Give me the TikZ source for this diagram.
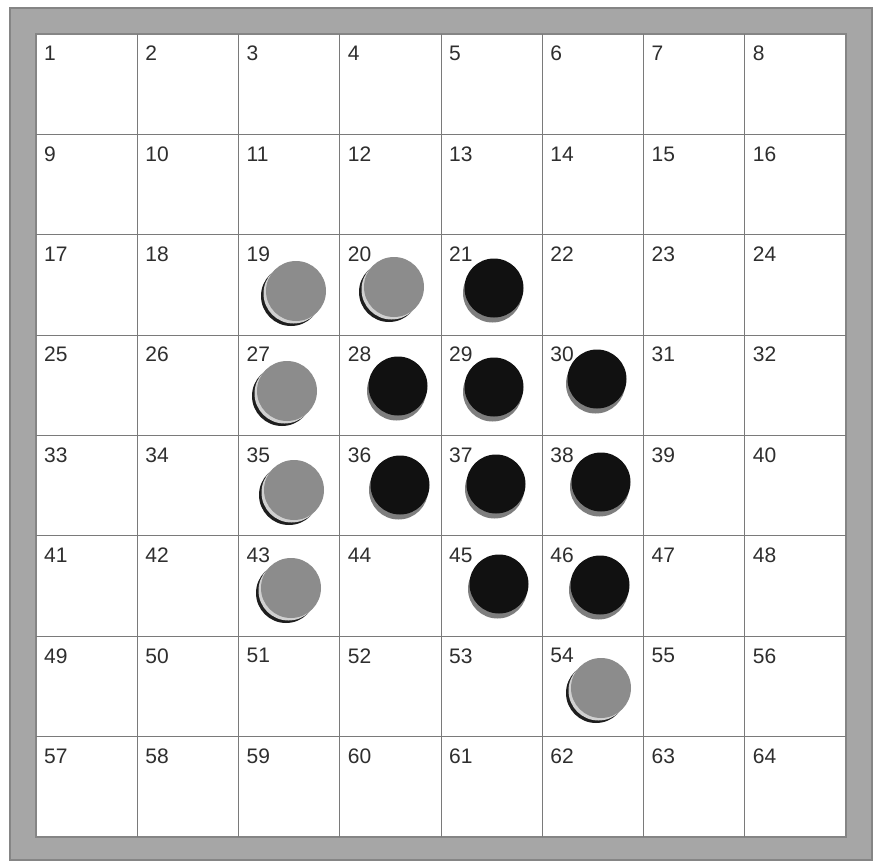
\documentclass[tikz,border=0pt]{standalone}
\usepackage{fontspec}
\setmainfont{Liberation Sans}
\definecolor{framegray}{HTML}{A6A6A6}
\definecolor{frameedge}{HTML}{858585}
\definecolor{gridgray}{HTML}{7A7A7A}
\definecolor{numgray}{HTML}{2E2E2E}
\definecolor{piecegray}{HTML}{8C8C8C}
\definecolor{shadowdark}{HTML}{1E1E1E}
\definecolor{rimlight}{HTML}{D0D0D0}
\definecolor{blackpiece}{HTML}{111111}
\definecolor{blackshadow}{HTML}{7E7E7E}
\tikzset{
  cellnum/.style={anchor=north west, inner sep=0pt, font=\fontsize{21}{21}\selectfont, text=numgray},
  gridline/.style={draw=gridgray, line width=0.9pt},
}
\newcommand{\graypiece}[3]{%
  \fill[shadowdark] (#1-5,#2+5) circle (30);
  \fill[rimlight] (#1-2.5,#2+2.5) circle (30);
  \fill[piecegray] (#1,#2) circle (30);
  \node[circle, minimum size=60pt, inner sep=0pt] (p#3) at (#1,#2) {};
}
\newcommand{\blackpiece}[3]{%
  \fill[blackshadow] (#1-1.5,#2+5) circle (29.5);
  \fill[blackpiece] (#1,#2) circle (29.5);
  \node[circle, minimum size=59pt, inner sep=0pt] (p#3) at (#1,#2) {};
}
\begin{document}
\begin{tikzpicture}[x=1pt,y=-1pt]
\useasboundingbox (0,0) rectangle (879,865);
\fill[white] (0,0) rectangle (879,865);
% frame
\fill[framegray] (10,8) rectangle (872,860);
\draw[frameedge, line width=1.2pt] (10,8) rectangle (872,860);
\fill[white] (36,34) rectangle (846,837);
\draw[frameedge, line width=1.2pt] (36,34) rectangle (846,837);
% grid
\foreach \i in {1,...,7} {
  \draw[gridline] ({36+\i*101.25},34) -- ({36+\i*101.25},837);
  \draw[gridline] (36,{34+\i*100.375}) -- (846,{34+\i*100.375});
}
% numbers
\foreach \r in {0,...,7} {
  \foreach \c in {0,...,7} {
    \pgfmathtruncatemacro{\n}{\r*8+\c+1}
    \node[cellnum] (n\n) at ({36+\c*101.25+8},{34+\r*100.375+12}) {\n};
  }
}
% pieces
\graypiece{296}{291}{19}
\graypiece{394}{287}{20}
\graypiece{287}{391}{27}
\graypiece{294}{490}{35}
\graypiece{291}{588}{43}
\graypiece{601}{688}{54}
\blackpiece{494}{288}{21}
\blackpiece{398}{386}{28}
\blackpiece{494}{387}{29}
\blackpiece{597}{379}{30}
\blackpiece{400}{485}{36}
\blackpiece{496}{484}{37}
\blackpiece{601}{482}{38}
\blackpiece{499}{584}{45}
\blackpiece{600}{585}{46}
\end{tikzpicture}
\end{document}
